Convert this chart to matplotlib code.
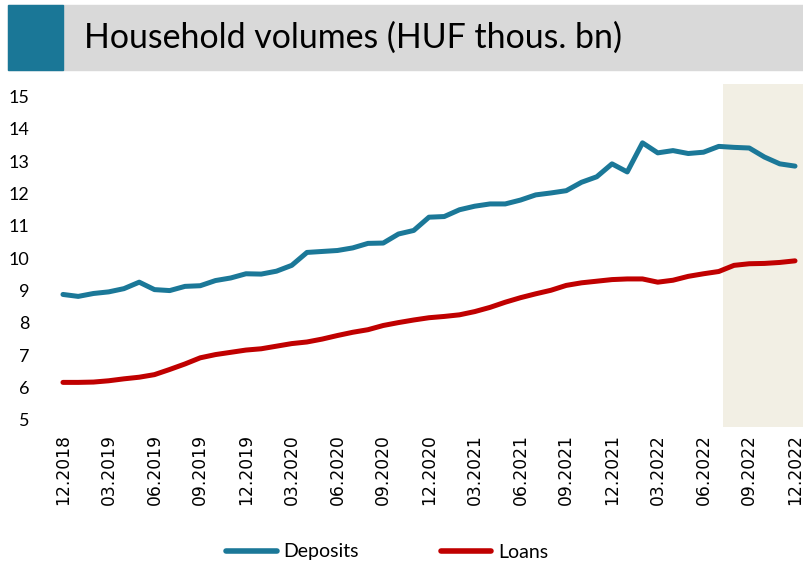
import matplotlib
matplotlib.use("Agg")
import matplotlib.pyplot as plt
from matplotlib.patches import Rectangle

months = ["12.2018", "01.2019", "02.2019", "03.2019", "04.2019", "05.2019", "06.2019",
          "07.2019", "08.2019", "09.2019", "10.2019", "11.2019", "12.2019",
          "01.2020", "02.2020", "03.2020", "04.2020", "05.2020", "06.2020",
          "07.2020", "08.2020", "09.2020", "10.2020", "11.2020", "12.2020",
          "01.2021", "02.2021", "03.2021", "04.2021", "05.2021", "06.2021",
          "07.2021", "08.2021", "09.2021", "10.2021", "11.2021", "12.2021",
          "01.2022", "02.2022", "03.2022", "04.2022", "05.2022", "06.2022",
          "07.2022", "08.2022", "09.2022", "10.2022", "11.2022", "12.2022"]

deposits = [8.88, 8.82, 8.91, 8.96, 9.06, 9.26, 9.03, 9.00, 9.13, 9.15,
            9.31, 9.39, 9.52, 9.51, 9.60, 9.78, 10.18, 10.21, 10.24, 10.32,
            10.46, 10.47, 10.75, 10.86, 11.27, 11.29, 11.50, 11.61, 11.68, 11.68,
            11.80, 11.96, 12.02, 12.09, 12.35, 12.52, 12.92, 12.67, 13.57, 13.26,
            13.33, 13.24, 13.28, 13.46, 13.43, 13.41, 13.13, 12.92, 12.85]

loans = [6.16, 6.16, 6.17, 6.21, 6.27, 6.32, 6.40, 6.56, 6.73, 6.92,
         7.02, 7.09, 7.16, 7.20, 7.28, 7.36, 7.41, 7.50, 7.61, 7.71,
         7.79, 7.92, 8.01, 8.09, 8.16, 8.20, 8.25, 8.35, 8.48, 8.64,
         8.78, 8.90, 9.01, 9.16, 9.24, 9.29, 9.34, 9.36, 9.36, 9.26,
         9.32, 9.44, 9.52, 9.59, 9.78, 9.83, 9.84, 9.87, 9.92]

title = "Household volumes (HUF thous. bn)"
shade_start = 43.28  # forecast region start (position in months)

DEP_COLOR = "#1B7898"
LOAN_COLOR = "#C00000"
SHADE_COLOR = "#F2EFE4"

W, H = 804, 585
fig = plt.figure(figsize=(W / 100, H / 100), dpi=100)

# title bar
fig.patches.append(Rectangle((8 / W, 1 - 70 / H), (804 - 8) / W, 65 / H,
                             transform=fig.transFigure, color="#D9D9D9", zorder=0))
fig.patches.append(Rectangle((8 / W, 1 - 70 / H), (63 - 8) / W, 65 / H,
                             transform=fig.transFigure, color="#1A7797", zorder=1))
fig.text(84 / W, 1 - 38 / H, title, family=["Lato", "DejaVu Sans"], fontsize=24.4,
         va="center", ha="left", color="black")

ax = fig.add_axes([50 / W, (H - 427) / H, 754 / W, (427 - 84) / H])
x = list(range(len(months)))
ax.set_xlim(-0.85, 48.59)
ax.set_ylim(4.78, 15.39)
ax.axvspan(shade_start, 48.59, color=SHADE_COLOR, zorder=0, lw=0)

ax.plot(x, deposits, color=DEP_COLOR, lw=3.6, solid_capstyle="round",
        solid_joinstyle="round", label="Deposits", zorder=3)
ax.plot(x, loans, color=LOAN_COLOR, lw=3.6, solid_capstyle="round",
        solid_joinstyle="round", label="Loans", zorder=3)

ax.set_yticks(range(5, 16))
ax.set_yticklabels([str(v) for v in range(5, 16)], family="Lato", fontsize=13)
tick_pos = x[::3]
ax.set_xticks(tick_pos)
ax.set_xticklabels([months[i] for i in tick_pos], rotation=90,
                   family="DejaVu Sans", fontsize=12.3)
ax.tick_params(axis="y", length=0, pad=15)
ax.tick_params(axis="x", length=0, pad=5)
for s in ax.spines.values():
    s.set_visible(False)

leg = fig.legend(loc="center", bbox_to_anchor=(387 / W, 1 - 552 / H), ncol=2,
                 frameon=False, prop={"family": "Lato", "size": 14},
                 handlelength=2.6, handletextpad=0.35, columnspacing=4.2)
for line in leg.get_lines():
    line.set_linewidth(4)

fig.savefig("out.png", dpi=100)
